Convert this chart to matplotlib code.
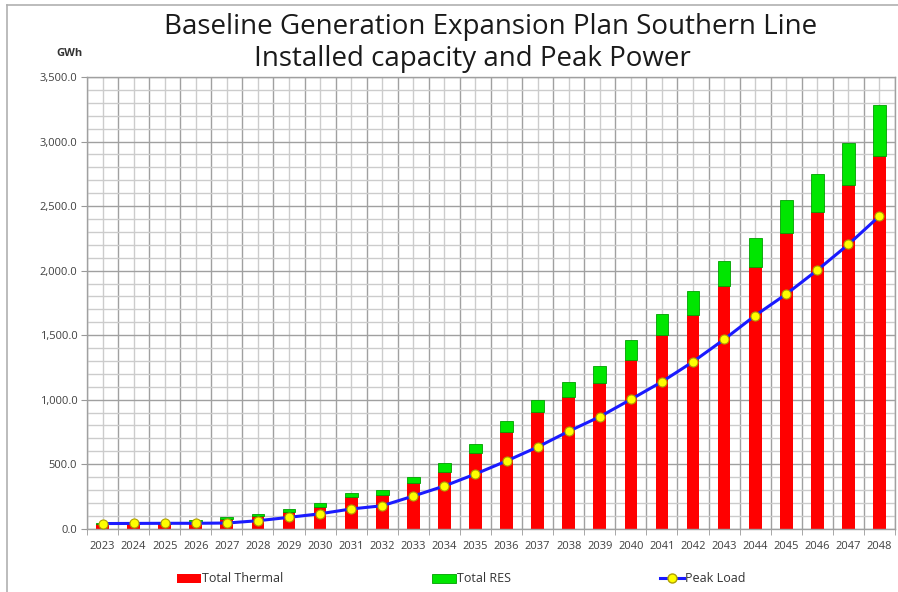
import matplotlib
matplotlib.use("Agg")
import matplotlib.pyplot as plt
from matplotlib.ticker import MultipleLocator, FuncFormatter
from matplotlib.lines import Line2D
from matplotlib.patches import Patch

plt.rcParams['font.family'] = ['Open Sans', 'DejaVu Sans']

years = list(range(2023, 2049))
total = [45, 45, 47, 67, 88, 114, 150, 201, 274, 300, 403, 507, 654, 834, 997,
         1139, 1263, 1462, 1663, 1842, 2073, 2250, 2547, 2748, 2991, 3283]
thermal = [38, 38, 40, 54, 73, 98, 129, 170, 243, 261, 356, 442, 584, 747, 902,
           1023, 1131, 1307, 1502, 1656, 1880, 2030, 2293, 2456, 2663, 2888]
res = [t - th for t, th in zip(total, thermal)]
peak = [40, 41, 42, 42, 44, 62, 88, 116, 153, 178, 253, 331, 424, 525, 633,
        755, 868, 1002, 1139, 1294, 1467, 1652, 1818, 2004, 2203, 2423]

fig = plt.figure(figsize=(8.98, 5.92), dpi=100)
ax = fig.add_axes([0.0969, 0.1069, 0.8998, 0.763])

x = list(range(len(years)))
ax.bar(x, thermal, width=0.41, color='#ff0000', zorder=2, label='Total Thermal')
ax.bar(x, res, bottom=thermal, width=0.41, color='#00e600', edgecolor='#00a000',
       linewidth=0.6, zorder=2, label='Total RES')
ax.plot(x, peak, color='#1a1aff', linewidth=2.2, marker='o', markersize=6.5,
        markerfacecolor='#ffff00', markeredgecolor='#b0a000', markeredgewidth=0.8,
        zorder=3, label='Peak Load')

ax.set_xlim(-0.5, len(years) - 0.5)
ax.set_ylim(0, 3500)
ax.set_xticks(x)
ax.set_xticklabels([str(y) for y in years])
ax.xaxis.set_minor_locator(MultipleLocator(1, offset=0.5))
ax.yaxis.set_major_locator(MultipleLocator(500))
ax.yaxis.set_minor_locator(MultipleLocator(100))
ax.yaxis.set_major_formatter(FuncFormatter(lambda v, p: f"{v:,.1f}"))

ax.tick_params(axis='x', which='major', length=0, labelsize=8, colors='#404040', pad=9)
ax.tick_params(axis='x', which='minor', length=4, color='#999999')
ax.tick_params(axis='y', which='major', length=4, labelsize=8, colors='#404040',
               color='#999999', pad=3)
ax.tick_params(axis='y', which='minor', length=0)

ax.set_axisbelow(True)
ax.xaxis.grid(True, which='minor', color='#a0a0a0', linewidth=1.0)
ax.xaxis.grid(True, which='major', color='#cccccc', linewidth=1.0)
ax.yaxis.grid(True, which='major', color='#a0a0a0', linewidth=1.0)
ax.yaxis.grid(True, which='minor', color='#cccccc', linewidth=1.0)
for s in ax.spines.values():
    s.set_color('#a0a0a0')
    s.set_linewidth(1.0)

fig.text(0.546, 0.955, "Baseline Generation Expansion Plan Southern Line",
         ha='center', va='center', fontsize=20, color='#1a1a1a')
fig.text(0.526, 0.9, "Installed capacity and Peak Power",
         ha='center', va='center', fontsize=20, color='#1a1a1a')
fig.text(0.077, 0.91, "GWh", ha='center', va='center', fontsize=8,
         fontweight='bold', color='#333333')

handles = [Patch(facecolor='#ff0000'),
           Patch(facecolor='#00e600', edgecolor='#00a000', linewidth=0.6),
           Line2D([], [], color='#1a1aff', linewidth=2.2, marker='o', markersize=6.5,
                  markerfacecolor='#ffff00', markeredgecolor='#b0a000')]
fig.legend(handles, ['Total Thermal', 'Total RES', 'Peak Load'], ncol=3,
           loc='center', bbox_to_anchor=(0.514, 0.022), frameon=False,
           fontsize=9, handlelength=1.9, handleheight=0.75, handletextpad=0.1,
           columnspacing=11.9, labelcolor='#333333')

fig.add_artist(Line2D([0.008, 0.008], [0, 0.992], transform=fig.transFigure,
                      color='#b0b0b0', linewidth=1.2))
fig.add_artist(Line2D([0.008, 1.0], [0.992, 0.992], transform=fig.transFigure,
                      color='#b0b0b0', linewidth=1.2))

fig.savefig("out.png", dpi=100)
